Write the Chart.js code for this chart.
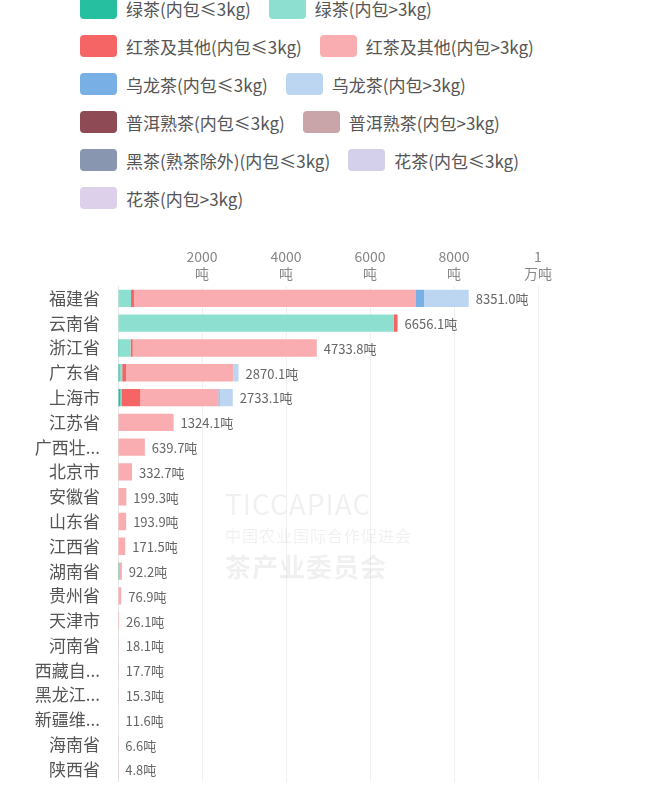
<!DOCTYPE html>
<html><head><meta charset="utf-8">
<script src="https://cdn.jsdelivr.net/npm/chart.js@4"></script>
<style>
body{margin:0;width:653px;height:800px;overflow:hidden;background:#fff;font-family:"Noto Sans CJK SC",sans-serif;position:relative}
#legend{position:absolute;left:80px;top:-11px;width:570px}
.row{height:38px;display:flex;align-items:center;white-space:nowrap}
.it{display:flex;align-items:center;margin-right:18px;font-size:17px;color:#555}
.sw{width:37px;height:22px;border-radius:4px;margin-right:9px}
#wm{position:absolute;left:225px;top:483px;color:rgba(0,0,0,0.06);font-size:26px;letter-spacing:1px}
#box{position:absolute;left:0;top:228px;width:653px;height:574px}
</style></head><body>
<div id="legend"></div>
<div id="box"><canvas id="c"></canvas></div>
<div id="wm"><div style="font-size:28px">TICCAPIAC</div><div style="font-size:16px">中国农业国际合作促进会</div><div style="font-size:26px;font-weight:bold">茶产业委员会</div></div>
<script>
const categories=["福建省","云南省","浙江省","广东省","上海市","江苏省","广西壮...","北京市","安徽省","山东省","江西省","湖南省","贵州省","天津市","河南省","西藏自...","黑龙江...","新疆维...","海南省","陕西省"];
const seriesNames=["绿茶(内包≤3kg)","绿茶(内包>3kg)","红茶及其他(内包≤3kg)","红茶及其他(内包>3kg)","乌龙茶(内包≤3kg)","乌龙茶(内包>3kg)","普洱熟茶(内包≤3kg)","普洱熟茶(内包>3kg)","黑茶(熟茶除外)(内包≤3kg)","花茶(内包≤3kg)","花茶(内包>3kg)"];
const colors=["#26bfa0","#8ddfcf","#f56565","#f9adb0","#78b0e6","#bcd6f2","#8e4a55","#c9a4a9","#8896b0","#d4cfea","#ddd0ea"];
const greenS=[0,0,30,40,60,0,0,0,0,0,0,20,0,0,0,0,0,0,0,0];
const greenL=[310,6570,270,60,20,0,0,0,0,0,0,0,0,0,0,0,0,0,0,0];
const redS=[70,86.1,50,90,450,0,0,0,0,0,0,0,0,0,0,0,0,0,0,0];
const redL=[6700,0,4383.8,2560,1860,1324.1,639.7,332.7,199.3,193.9,171.5,72.2,76.9,26.1,18.1,17.7,15.3,11.6,6.6,4.8];
const oolongS=[210,0,0,0,30,0,0,0,0,0,0,0,0,0,0,0,0,0,0,0];
const oolongL=[1061,0,0,120,313.1,0,0,0,0,0,0,0,0,0,0,0,0,0,0,0];
const zero=categories.map(()=>0);
const seriesData=[greenS,greenL,redS,redL,oolongS,oolongL,zero,zero,zero,zero,zero];
const totals=[8351.0,6656.1,4733.8,2870.1,2733.1,1324.1,639.7,332.7,199.3,193.9,171.5,92.2,76.9,26.1,18.1,17.7,15.3,11.6,6.6,4.8];
const tickLabels={2000:["2000","吨"],4000:["4000","吨"],6000:["6000","吨"],8000:["8000","吨"],10000:["1","万吨"]};

const rows=[[0,1],[2,3],[4,5],[6,7],[8,9],[10]];
const lg=document.getElementById('legend');
rows.forEach(r=>{const d=document.createElement('div');d.className='row';
 r.forEach(i=>{d.innerHTML+=`<div class="it"><div class="sw" style="background:${colors[i]}"></div>${seriesNames[i]}</div>`;});lg.appendChild(d);});

const totalPlugin={id:'tot',afterDatasetsDraw(ch){const c=ch.ctx,x=ch.scales.x,y=ch.scales.y;
 c.save();c.font='13px "Noto Sans CJK SC"';c.fillStyle='#666';c.textBaseline='middle';
 totals.forEach((t,i)=>{c.fillText(t.toFixed(1)+'吨',x.getPixelForValue(t)+7,y.getPixelForValue(i)+1);});c.restore();}};

new Chart(document.getElementById('c'),{type:'bar',
 data:{labels:categories,datasets:seriesData.map((d,i)=>({label:seriesNames[i],data:d,backgroundColor:colors[i],barPercentage:0.7,categoryPercentage:1}))},
 options:{indexAxis:'y',responsive:true,maintainAspectRatio:false,animation:false,
  layout:{padding:{right:115,bottom:0,top:0,left:0}},
  plugins:{legend:{display:false},tooltip:{enabled:false}},
  scales:{
   x:{position:'top',stacked:true,min:0,max:10000,
     afterFit(s){s.height=58;},
     ticks:{stepSize:2000,color:'#888',font:{size:14,family:'"Noto Sans CJK SC"'},padding:4,
       callback:v=>tickLabels[v]||''},
     grid:{color:'#f0f0f0',drawTicks:false},border:{display:false}},
   y:{stacked:true,afterFit(s){s.width=118;},
     ticks:{color:'#555',font:{size:17,family:'"Noto Sans CJK SC"'},padding:10},
     grid:{display:false},border:{color:'#e6e6e6'}}
  }},plugins:[totalPlugin]});
</script></body></html>
